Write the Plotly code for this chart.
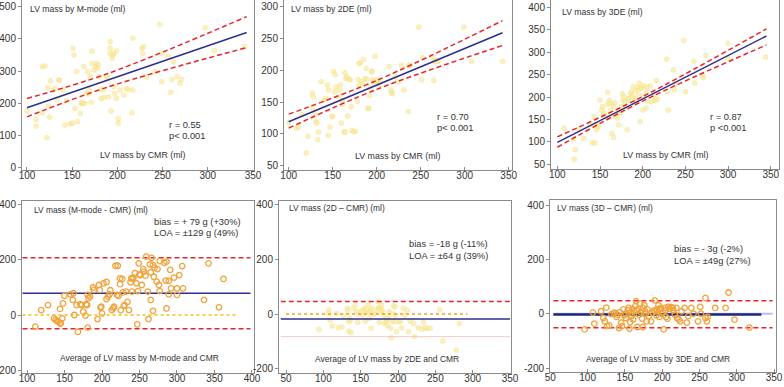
import plotly.graph_objects as go

W, H = 784, 387

# ---------------- DATA ----------------
# Top-left: M-mode vs CMR
tl_x = [100,110,110,117,120,117,123,124,125,122,126,129,131,133,135,136,140,142,144,148,150,151,152,153,155,156,159,160,161,162,
        163,164,166,168,169,167,170,171,172,172,174,176,177,178,179,180,181,182,185,185,188,189,190,192,192,192,193,194,195,196,
        196,197,199,201,203,199,201,207,210,212,217,217,227,229,228,216,247,249,260,259,262,266,269,271,297,307,341,249,256,242,232]
tl_y = [176,150,129,314,316,171,249,192,157,93,270,241,246,212,272,272,241,133,208,136,138,371,350,184,299,143,169,200,202,200,
        314,200,231,229,241,298,283,203,362,324,303,314,324,308,319,283,243,215,218,243,281,283,220,371,355,391,176,340,350,355,
        252,231,363,153,241,215,138,226,246,243,402,241,371,376,355,171,445,267,274,234,329,283,262,275,435,365,376,355,345,298,281]
tl_fit_x = [100, 343]
tl_fit_y = [186, 420]
tl_ci_x = [100, 190, 343]
tl_ci_up = [215, 293, 469]
tl_ci_lo = [158, 251, 373]

# Top-middle: 2DE vs CMR
tm_x = [100,109,111,115,122,120,127,128,127,130,131,132,133,134,137,140,142,144,145,145,147,149,150,151,153,152,154,157,158,159,
        160,161,161,163,164,164,165,166,167,169,170,171,172,174,176,178,179,180,180,181,183,184,185,187,188,189,190,191,192,193,
        194,195,195,197,198,198,200,202,202,204,214,216,217,218,221,225,228,231,236,236,238,248,251,252,263,265,265,267,269,270,
        299,308,343]
tm_y = [118,109,111,130,96,70,164,158,140,130,119,117,91,103,182,153,156,177,169,98,111,127,128,198,193,166,174,158,169,177,
        117,146,153,103,103,196,187,190,128,186,185,143,105,103,104,151,185,177,211,211,182,177,217,187,203,186,140,140,160,172,
        198,198,185,182,222,182,185,182,177,182,206,169,165,163,190,182,208,169,135,208,208,268,185,220,221,214,184,216,214,214,
        268,214,214]
tm_fit_x = [100, 343]
tm_fit_y = [119, 259]
tm_ci_x = [100, 200, 343]
tm_ci_up = [131, 184, 278]
tm_ci_lo = [109, 170, 239]

# Top-right: 3DE vs CMR
tr_x = [108,120,121,119,125,131,139,141,144,143,145,146,147,148,150,152,153,154,155,157,159,159,161,162,163,163,164,166,166,167,
        168,170,170,172,173,174,175,176,177,178,179,180,182,183,184,186,187,188,189,190,191,192,193,194,195,196,197,198,198,200,
        201,202,204,205,205,206,209,210,213,214,215,216,217,228,229,230,236,237,238,248,250,260,261,270,271,274,300,300,344]
tr_y = [130,61,83,106,128,108,138,98,98,156,141,127,134,135,193,171,179,160,164,156,184,210,193,186,171,160,119,110,180,187,
        156,167,153,138,171,164,179,207,193,201,190,175,127,193,197,207,212,201,223,186,197,216,193,222,208,231,145,219,222,171,
        201,225,175,222,212,190,225,190,205,193,195,237,195,284,212,171,260,216,229,326,212,280,231,249,243,293,320,286,289]
tr_fit_x = [100, 345]
tr_fit_y = [99, 336]
tr_ci_x = [100, 200, 345]
tr_ci_up = [111, 201, 352]
tr_ci_lo = [88, 191, 316]

# Bottom-left: Bland-Altman M-mode
bl_x = [111,119,128,136,138,140,142,144,145,147,144,148,150,158,161,162,163,166,168,171,173,175,179,180,181,182,181,184,178,189,
        188,194,196,197,198,199,200,202,206,206,208,210,211,213,215,216,218,221,220,222,224,224,227,225,228,229,230,232,234,236,
        238,239,240,241,242,244,246,249,251,253,248,247,250,255,256,258,259,261,264,265,266,268,270,269,273,274,276,277,277,286,
        289,291,292,296,300,300,303,307,308,289,286,336,342,356,362,262,265,268,283,285]
bl_y = [-42,18,36,-12,-18,-22,-24,-30,-30,-12,22,42,70,75,55,79,0,36,-61,39,36,12,39,36,-46,61,73,67,-2,91,
        100,-15,109,91,27,30,6,115,120,58,67,75,90,18,24,30,179,179,73,70,133,112,131,18,82,33,36,85,48,18,
        119,133,85,133,136,152,115,188,145,109,87,-34,148,167,158,143,212,85,184,155,208,182,172,139,121,167,109,196,87,194,
        124,164,97,136,97,73,145,178,97,75,24,55,188,28,131,-15,55,15,190,125]
bl_bias = 79
bl_loa_up = 208
bl_loa_lo = -50
bl_line_x = [94, 398]
bl_zero_x = [94, 380]

# Bottom-middle: Bland-Altman 2DE
bm_x = [94,107,107,109,112,118,120,125,127,132,133,134,135,136,134,137,140,143,145,146,147,152,153,154,155,156,158,160,161,161,
        163,164,165,167,169,172,173,174,175,176,178,178,179,181,182,184,185,186,187,188,190,191,192,193,194,195,196,197,198,201,
        203,205,207,209,212,214,216,221,222,227,232,234,236,239,243,256,260,278,282]
bm_y = [-56,15,2,-22,-43,2,-50,-46,-6,21,11,-28,-13,-22,-62,-67,21,33,9,-30,-1,15,-4,11,21,-26,15,35,6,-16,
        15,-52,21,-1,2,15,45,23,-30,21,33,9,15,-4,-34,-28,-18,-43,-13,9,-52,-86,-26,2,30,-28,27,-4,-64,-28,
        -26,-50,21,-4,15,-64,-26,-34,-83,-50,-55,-30,-50,-52,-52,16,-98,-131,-34]
bm_bias = -18
bm_loa_up = 46
bm_loa_lo = -82
bm_line_x = [43, 350]
bm_zero_x = [50, 293]

# Bottom-right: Bland-Altman 3DE
br_x = [96,107,109,118,121,123,125,126,129,132,135,136,139,140,142,143,145,146,148,149,151,151,154,155,156,157,158,159,160,161,
        162,164,165,166,167,168,169,170,171,173,174,174,176,177,178,179,180,182,185,187,189,190,191,192,193,195,196,196,198,199,
        201,202,204,204,205,207,208,210,212,214,215,217,219,220,222,224,226,230,233,235,239,242,248,251,252,258,258,260,261,271,
        285,289,297,317]
br_y = [-58,4,-37,9,-16,-28,22,-46,-43,-2,0,4,-12,-4,-53,6,-33,-46,16,-6,0,-16,12,21,-55,-31,4,-9,18,-21,
        9,28,46,12,-49,18,-4,37,6,-18,21,-49,31,9,0,-28,16,-9,-28,4,12,49,9,-6,16,31,18,-12,21,0,
        6,-58,12,21,-12,-18,25,18,25,21,12,-4,21,-16,-21,-28,9,21,-33,-9,21,0,-28,25,0,58,-16,-28,-12,21,
        21,78,-22,-51]
br_bias = -3
br_loa_up = 48
br_loa_lo = -52
br_line_x = [54, 348]

# Tick labels
ba_yticks = [-200, 0, 200, 400]
ba_ytext = ["-200", "0", "200", "400"]

# ---------------- STYLE ----------------
FONT = "Liberation Sans, Arial, sans-serif"
TXT = "#333333"
BLUE = "#2b2f8f"
RED = "#e8262b"
DASH = "5px,3px"
PALE = "rgba(248,232,150,0.62)"
ORANGE = "#f2a23a"

fig = go.Figure()

def px2x(p):
    return p / W

def px2y(p):
    return 1 - p / H

panels = [
    ("1", (22, 254), (0, 170), [94.5, 351.1], [-7.1, 520.8], [100, 150, 200, 250, 300, 350], [0, 100, 200, 300, 400, 500], True),
    ("2", (284, 512), (0, 170), [94.7, 353.75], [43.2, 310.5], [100, 150, 200, 250, 300, 350], [50, 100, 150, 200, 250, 300], True),
    ("3", (551, 779), (0, 169), [92.6, 359.7], [39.5, 416.3], [100, 150, 200, 250, 300, 350], [50, 100, 150, 200, 250, 300, 350, 400], True),
    ("4", (22, 254), (200.7, 373.3), [93.3, 402.7], [-212, 415.6], [100, 150, 200, 250, 300, 350, 400], ba_yticks, False),
    ("5", (279, 511), (200.5, 373), [40.6, 351.3], [-214.6, 413.8], [50, 100, 150, 200, 250, 300, 350], ba_yticks, False),
    ("6", (550, 776), (200, 372), [49.5, 352.6], [-214.7, 418.4], [50, 100, 150, 200, 250, 300, 350], ba_yticks, False),
]

layout = {}
for name, xd, yd, xr, yr, xt, yt, top in panels:
    xk = "xaxis" if name == "1" else "xaxis" + name
    yk = "yaxis" if name == "1" else "yaxis" + name
    layout[xk] = dict(domain=[px2x(xd[0]), px2x(xd[1])], range=xr, anchor="y" + ("" if name == "1" else name),
                      automargin=False,
                      showgrid=False, zeroline=False, showline=True, linecolor="#8a8a8a", linewidth=1,
                      mirror=(not top), ticks="inside", ticklen=3, tickcolor="#8a8a8a", ticklabelstandoff=-4,
                      tickvals=xt, tickfont=dict(family=FONT, size=10, color=TXT), fixedrange=True)
    ydict = dict(domain=[px2y(yd[1]), px2y(yd[0])], range=yr, anchor="x" + ("" if name == "1" else name),
                 automargin=False,
                 showgrid=False, zeroline=False, showline=True, linecolor="#8a8a8a", linewidth=1,
                 mirror=True, ticks="outside", ticklen=3, tickcolor="#8a8a8a",
                 tickvals=yt, tickfont=dict(family=FONT, size=10, color=TXT), fixedrange=True)
    if not top:
        ydict["ticktext"] = ba_ytext
    layout[yk] = ydict

def ax(name):
    return ("x" if name == "1" else "x" + name), ("y" if name == "1" else "y" + name)

def pale_scatter(name, xs, ys):
    xa, ya = ax(name)
    fig.add_trace(go.Scatter(x=xs, y=ys, mode="markers", xaxis=xa, yaxis=ya, showlegend=False,
                             marker=dict(size=5, color=PALE, line=dict(width=0.6, color="rgba(240,218,120,0.5)"))))

def open_scatter(name, xs, ys):
    xa, ya = ax(name)
    fig.add_trace(go.Scatter(x=xs, y=ys, mode="markers", xaxis=xa, yaxis=ya, showlegend=False,
                             marker=dict(size=5.5, symbol="circle-open", color=ORANGE, line=dict(width=1.3, color=ORANGE))))

def line(name, xs, ys, color, width=1.5, dash="solid", shape="linear"):
    xa, ya = ax(name)
    fig.add_trace(go.Scatter(x=xs, y=ys, mode="lines", xaxis=xa, yaxis=ya, showlegend=False,
                             line=dict(color=color, width=width, dash=dash, shape=shape)))

# Top panels
pale_scatter("1", tl_x, tl_y)
line("1", tl_fit_x, tl_fit_y, BLUE)
line("1", tl_ci_x, tl_ci_up, RED, dash=DASH, shape="spline")
line("1", tl_ci_x, tl_ci_lo, RED, dash=DASH, shape="spline")

pale_scatter("2", tm_x, tm_y)
line("2", tm_fit_x, tm_fit_y, BLUE)
line("2", tm_ci_x, tm_ci_up, RED, dash=DASH, shape="spline")
line("2", tm_ci_x, tm_ci_lo, RED, dash=DASH, shape="spline")

pale_scatter("3", tr_x, tr_y)
line("3", tr_fit_x, tr_fit_y, BLUE)
line("3", tr_ci_x, tr_ci_up, RED, dash=DASH, shape="spline")
line("3", tr_ci_x, tr_ci_lo, RED, dash=DASH, shape="spline")

# Bottom-left
line("4", bl_zero_x, [0, 0], "#f2c21b", width=1.5, dash="dot")
line("4", bl_line_x, [bl_loa_up, bl_loa_up], RED, dash=DASH)
line("4", bl_line_x, [bl_loa_lo, bl_loa_lo], RED, dash=DASH)
line("4", bl_line_x, [bl_bias, bl_bias], BLUE)
open_scatter("4", bl_x, bl_y)

# Bottom-middle
pale_scatter("5", bm_x, bm_y)
line("5", bm_line_x, [bm_loa_up, bm_loa_up], RED, dash=DASH)
line("5", bm_line_x, [bm_loa_lo, bm_loa_lo], "rgba(245,180,180,0.7)", width=1)
line("5", bm_zero_x, [0, 0], "#f0a020", width=1.5, dash="dot")
line("5", bm_line_x, [bm_bias, bm_bias], BLUE)

# Bottom-right
line("6", br_line_x, [0, 0], "rgba(170,170,230,0.8)", width=2)
line("6", br_line_x, [br_loa_up, br_loa_up], RED, dash=DASH)
line("6", br_line_x, [br_loa_lo, br_loa_lo], RED, dash=DASH)
line("6", [br_line_x[0], 333], [br_bias, br_bias], "#1e2878", width=2.5)
open_scatter("6", br_x, br_y)

# ---------------- TEXT ----------------
def note(text, x, y, size=9.3, anchor="left"):
    return dict(text=text, x=px2x(x), y=px2y(y), xref="paper", yref="paper", showarrow=False,
                xanchor=anchor, yanchor="middle", font=dict(family=FONT, size=size, color=TXT))

anns = [
    note("LV mass by M-mode (ml)", 28, 8.5, 8.6),
    note("r = 0.55", 167, 125),
    note("p< 0.001", 167, 136),
    note("LV mass by CMR (ml)", 142.5, 155, 8.8, "center"),

    note("LV mass by 2DE (ml)", 288.7, 9, 8.6),
    note("r = 0.70", 435.3, 116.7),
    note("p< 0.001", 435.3, 127.7),
    note("LV mass by CMR (ml)", 397, 156, 8.8, "center"),

    note("LV mass by 3DE (ml)", 560, 11.7, 8.6),
    note("r = 0.87", 708.3, 117.3),
    note("p <0.001", 708.3, 127.7),
    note("LV mass by CMR (ml)", 665, 155, 8.8, "center"),

    note("LV mass (M-mode - CMR) (ml)", 32.3, 210, 8.4),
    note("bias = + 79 g (+30%)", 151.7, 221.7),
    note("LOA = ±129 g (49%)", 151.7, 233.3),
    note("Average of LV mass by M-mode and CMR", 139, 358.3, 8.5, "center"),

    note("LV mass (2D – CMR) (ml)", 287, 207.7, 8.4),
    note("bias = -18 g (-11%)", 407, 244),
    note("LOA = ±64 g (39%)", 407, 255.7),
    note("Average of LV mass by 2DE and CMR", 386.5, 359, 8.5, "center"),

    note("LV mass (3D – CMR) (ml)", 555, 207.7, 8.4),
    note("bias = - 3g (-2%)", 671.7, 249.3),
    note("LOA = ±49g (27%)", 671.7, 261),
    note("Average of LV mass by 3DE and CMR", 657.8, 359, 8.5, "center"),
]

fig.update_layout(width=W, height=H, margin=dict(l=0, r=0, t=0, b=0, autoexpand=False),
                  paper_bgcolor="white", plot_bgcolor="white", showlegend=False,
                  annotations=anns, **layout)

fig.write_html("out.html", config={"displayModeBar": False},
               post_script="document.body.style.margin='0';document.body.style.overflow='hidden';")
